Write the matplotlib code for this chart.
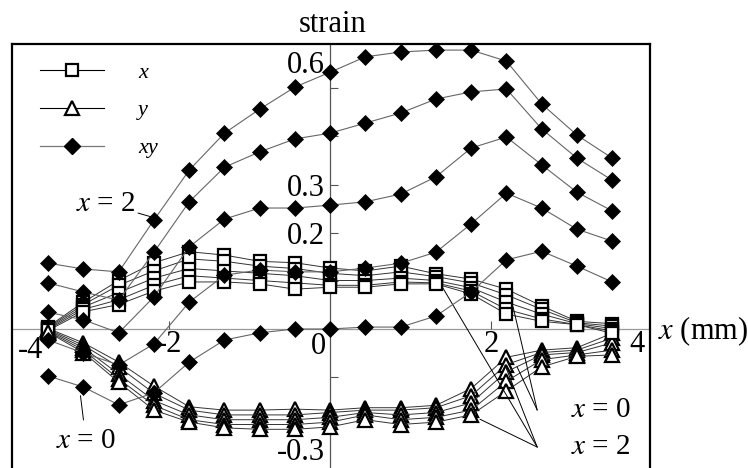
import matplotlib
matplotlib.use('Agg')
import matplotlib.pyplot as plt
from matplotlib.lines import Line2D

plt.rcParams['font.family'] = ['Liberation Serif', 'DejaVu Serif']
plt.rcParams['mathtext.fontset'] = 'stix'
plt.rcParams['axes.unicode_minus'] = False

# ---------------- data ----------------
positions = [-3.5, -3.0625, -2.625, -2.1875, -1.75, -1.3125, -0.875, -0.4375, 0.0,
             0.4375, 0.875, 1.3125, 1.75, 2.1875, 2.625, 3.0625, 3.5]

# strain x (open squares), five curves
x_strain_1 = [0.004, 0.055, 0.100, 0.137, 0.160, 0.153, 0.140, 0.137, 0.126, 0.120, 0.130, 0.114, 0.103, 0.082, 0.047, 0.015, 0.010]
x_strain_2 = [0.002, 0.050, 0.090, 0.120, 0.145, 0.140, 0.130, 0.125, 0.115, 0.110, 0.118, 0.108, 0.095, 0.070, 0.040, 0.012, 0.005]
x_strain_3 = [0.000, 0.045, 0.075, 0.105, 0.125, 0.120, 0.115, 0.110, 0.100, 0.100, 0.105, 0.100, 0.085, 0.055, 0.030, 0.010, 0.000]
x_strain_4 = [-0.002, 0.040, 0.060, 0.090, 0.110, 0.105, 0.100, 0.095, 0.090, 0.090, 0.097, 0.095, 0.078, 0.040, 0.020, 0.008, -0.005]
x_strain_5 = [-0.004, 0.035, 0.050, 0.078, 0.097, 0.097, 0.093, 0.082, 0.086, 0.086, 0.093, 0.093, 0.072, 0.030, 0.015, 0.008, -0.010]

# strain y (open triangles), five curves
y_strain_1 = [0.000, -0.030, -0.070, -0.120, -0.163, -0.170, -0.170, -0.168, -0.170, -0.165, -0.165, -0.160, -0.125, -0.060, -0.045, -0.040, -0.010]
y_strain_2 = [-0.002, -0.035, -0.080, -0.135, -0.170, -0.180, -0.180, -0.180, -0.175, -0.170, -0.170, -0.165, -0.140, -0.075, -0.050, -0.045, -0.020]
y_strain_3 = [-0.004, -0.040, -0.095, -0.150, -0.180, -0.190, -0.190, -0.190, -0.185, -0.175, -0.180, -0.175, -0.155, -0.090, -0.055, -0.050, -0.030]
y_strain_4 = [-0.006, -0.045, -0.105, -0.160, -0.190, -0.200, -0.200, -0.200, -0.195, -0.180, -0.190, -0.185, -0.170, -0.110, -0.065, -0.055, -0.045]
y_strain_5 = [-0.008, -0.050, -0.112, -0.170, -0.195, -0.207, -0.210, -0.210, -0.205, -0.190, -0.200, -0.195, -0.180, -0.130, -0.080, -0.058, -0.055]

# strain xy (filled diamonds), x = 0 ... x = 2
xy_strain_x0 = [-0.099, -0.122, -0.159, -0.134, -0.070, -0.024, -0.009, -0.001, -0.001, 0.003, 0.003, 0.026, 0.076, 0.143, 0.161, 0.130, 0.097]
xy_strain_x05 = [-0.024, -0.051, -0.076, -0.032, 0.055, 0.111, 0.122, 0.118, 0.118, 0.126, 0.136, 0.159, 0.218, 0.282, 0.251, 0.207, 0.182]
xy_strain_x1 = [0.034, 0.018, -0.009, 0.066, 0.170, 0.228, 0.251, 0.251, 0.257, 0.264, 0.280, 0.316, 0.376, 0.399, 0.341, 0.284, 0.245]
xy_strain_x15 = [0.095, 0.076, 0.059, 0.159, 0.264, 0.336, 0.368, 0.395, 0.407, 0.428, 0.449, 0.478, 0.493, 0.499, 0.416, 0.355, 0.309]
xy_strain_x2 = [0.136, 0.124, 0.118, 0.226, 0.330, 0.407, 0.457, 0.503, 0.534, 0.566, 0.576, 0.580, 0.580, 0.557, 0.468, 0.403, 0.355]

x_curves = [x_strain_1, x_strain_2, x_strain_3, x_strain_4, x_strain_5]
y_curves = [y_strain_1, y_strain_2, y_strain_3, y_strain_4, y_strain_5]
xy_curves = [xy_strain_x0, xy_strain_x05, xy_strain_x1, xy_strain_x15, xy_strain_x2]

legend_labels = ['x', 'y', 'xy']
xtick_major = [-2, 2]
ytick_major = [0.2, 0.3]
ytick_minor = [-0.2, -0.1, 0.1, 0.4, 0.5]

# ---------------- figure ----------------
W, H = 748, 468
fig = plt.figure(figsize=(W / 100, H / 100), dpi=100)
pos = [12 / W, 0.0, 638 / W, 424 / H]
ax = fig.add_axes(pos)
ax.set_xlim(-3.95, 3.97)
ax.set_ylim(-0.2906, 0.5927)

sq_kw = dict(marker='s', ms=8.5, mfc='white', mec='black', mew=1.6,
             color='#333333', lw=0.7)
tr_kw = dict(marker='^', ms=9.5, mfc='white', mec='black', mew=1.6,
             color='#333333', lw=0.7)
di_kw = dict(marker='D', ms=8.2, mfc='black', mec='black', mew=0.5,
             color='#666666', lw=0.8)

for xc, yc, xyc in zip(x_curves, y_curves, xy_curves):
    ax.plot(positions, xc, **sq_kw, zorder=3)
    ax.plot(positions, yc, **tr_kw, zorder=3)
    ax.plot(positions, xyc, **di_kw, zorder=4)

# centred axes
for s in ['top', 'right']:
    ax.spines[s].set_visible(False)
ax.spines['left'].set_position(('data', 0))
ax.spines['bottom'].set_position(('data', 0))
ax.spines['left'].set_color('#555555')
ax.spines['bottom'].set_color('#999999')
ax.spines['left'].set_linewidth(0.9)
ax.spines['bottom'].set_linewidth(0.9)
ax.spines['left'].set_zorder(1)
ax.spines['bottom'].set_zorder(1)
ax.set_facecolor('none')

ax.set_xticks(xtick_major)
ax.set_xticklabels([str(v) for v in xtick_major])
ax.set_yticks(ytick_major)
ax.set_yticklabels([f'{v:.1f}' for v in ytick_major])
ax.set_yticks(ytick_minor, minor=True)
ax.tick_params(axis='both', which='both', direction='in', length=6,
               width=0.8, color='#555555', labelsize=22)
ax.tick_params(axis='x', pad=1)
ax.tick_params(axis='y', pad=4)

# extra axis labels placed as in the original
lab_fs = 22
ax.annotate('0.6', xy=(0, 0.548), xytext=(-4, 0), textcoords='offset points',
            ha='right', va='center', fontsize=lab_fs)
ax.annotate('-0.3', xy=(0, -0.258), xytext=(-4, 0), textcoords='offset points',
            ha='right', va='center', fontsize=lab_fs)
ax.annotate('0', xy=(0, 0), xytext=(-3, -13), textcoords='offset points',
            ha='right', va='center', fontsize=lab_fs)
ax.text(-3.72, -0.045, '-4', ha='center', va='center', fontsize=lab_fs)
ax.text(3.81, -0.033, '4', ha='center', va='center', fontsize=lab_fs)

# axis titles
ax.annotate('strain', xy=(0, 1.0), xycoords=('data', 'axes fraction'),
            xytext=(2, 14), textcoords='offset points',
            ha='center', va='center', fontsize=lab_fs)
ax.annotate(r'$x$ (mm)', xy=(1.0, 0), xycoords=('axes fraction', 'data'),
            xytext=(6, -2), textcoords='offset points',
            ha='left', va='center', fontsize=lab_fs, annotation_clip=False)

# frame
frame = fig.add_axes(pos)
frame.set_xlim(ax.get_xlim())
frame.set_ylim(ax.get_ylim())
frame.set_facecolor('none')
frame.set_xticks([])
frame.set_yticks([])
frame.spines['bottom'].set_visible(False)
for s in ['top', 'left', 'right']:
    frame.spines[s].set_linewidth(1.6)
    frame.spines[s].set_color('black')
frame.set_zorder(5)

# legend
handles = [
    Line2D([], [], marker='s', ms=9, mfc='white', mec='black', mew=1.6, color='black', lw=0.8),
    Line2D([], [], marker='^', ms=10, mfc='white', mec='black', mew=1.6, color='black', lw=0.8),
    Line2D([], [], marker='D', ms=8.5, mfc='black', mec='black', color='#777777', lw=0.9),
]
leg = ax.legend(handles, legend_labels, loc='upper left',
                bbox_to_anchor=(40 / W, 1 - 62 / H), bbox_transform=fig.transFigure,
                frameon=False, borderpad=0, borderaxespad=0,
                handlelength=2.9, handletextpad=1.5, labelspacing=0.78,
                prop={'family': 'Liberation Serif', 'style': 'italic', 'size': 16})

# annotations
ann_fs = 21
ax.annotate(r'$x$ = 2', xy=(-2.21, 0.232), xytext=(-2.42, 0.26),
            ha='right', va='center', fontsize=ann_fs,
            arrowprops=dict(arrowstyle='-', color='black', lw=0.7, shrinkA=0, shrinkB=0))
ax.annotate(r'$x$ = 0', xy=(-3.10, -0.14), xytext=(-3.03, -0.235),
            ha='center', va='center', fontsize=ann_fs,
            arrowprops=dict(arrowstyle='-', color='black', lw=0.7, shrinkA=4, shrinkB=0))

ax.text(3.36, -0.17, r'$x$ = 0', ha='center', va='center', fontsize=ann_fs)
ax.text(3.36, -0.247, r'$x$ = 2', ha='center', va='center', fontsize=ann_fs)
for end in [(2.27, 0.045), (2.32, -0.08)]:
    ax.annotate('', xy=end, xytext=(2.57, -0.17),
                arrowprops=dict(arrowstyle='-', color='black', lw=0.7, shrinkA=0, shrinkB=0))
for end in [(1.40, 0.084), (1.86, -0.189), (2.17, -0.076)]:
    ax.annotate('', xy=end, xytext=(2.57, -0.247),
                arrowprops=dict(arrowstyle='-', color='black', lw=0.7, shrinkA=0, shrinkB=0))

fig.savefig('out.png', dpi=100)
